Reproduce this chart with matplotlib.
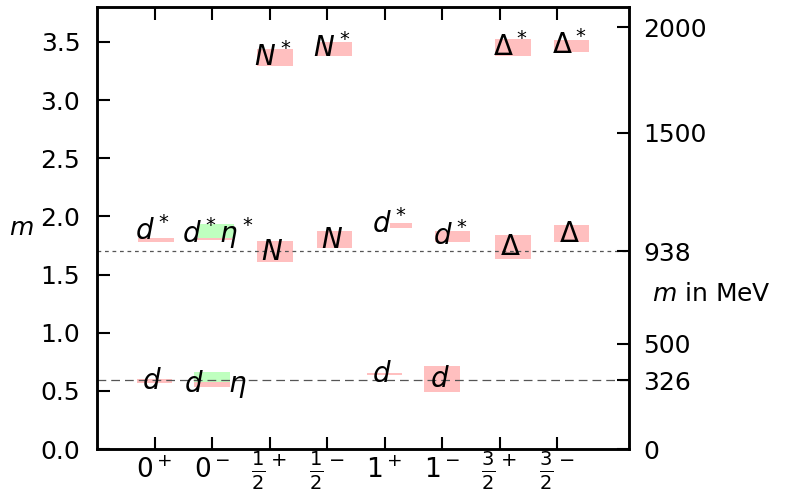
import matplotlib
matplotlib.use('Agg')
import matplotlib.pyplot as plt
import matplotlib.transforms as mtransforms
from matplotlib.patches import Rectangle

plt.rcParams['font.family'] = 'DejaVu Sans'
plt.rcParams['mathtext.fontset'] = 'dejavusans'

# J^P channels along the x axis
channels = [r'$0^+$', r'$0^-$', r'${\frac{1}{2}}^+$', r'${\frac{1}{2}}^-$',
            r'$1^+$', r'$1^-$', r'${\frac{3}{2}}^+$', r'${\frac{3}{2}}^-$']

# states: channel index, mass (lattice units), error, name, kind
state_channel = [0, 0, 1, 1, 1, 1, 2, 2, 3, 3, 4, 4, 5, 5, 6, 6, 7, 7]
state_mass = [0.585, 1.797, 0.555, 0.619, 1.806, 1.874, 1.698, 3.366, 1.801,
              3.439, 0.645, 1.922, 0.602, 1.827, 1.737, 3.448, 1.853, 3.465]
state_err = [0.017, 0.017, 0.022, 0.043, 0.009, 0.060, 0.090, 0.073, 0.073,
             0.060, 0.010, 0.021, 0.110, 0.047, 0.103, 0.073, 0.073, 0.052]
state_name = [r'$d$', r'$d^*$', '', r'$d\quad\eta$', '', r'$d^*\eta^*$',
              r'$N$', r'$N^*$', r'$N$', r'$N^*$', r'$d$', r'$d^*$',
              r'$d$', r'$d^*$', r'$\Delta$', r'$\Delta^*$', r'$\Delta$', r'$\Delta^*$']
state_kind = ['b', 'b', 'b', 's', 'b', 's', 'b', 'b', 'b',
              'b', 'b', 'b', 'b', 'b', 'b', 'b', 'b', 'b']

# right axis in MeV
mev_per_unit = 938 / 1.7
mev_ticks = [0, 326, 500, 938, 1500, 2000]
nucleon_mev = 938
quark_mev = 326

# layout tweaks per state (box shift / width, label offsets)
box_shift = [0.0, 0.02, 0.0, 0.0, 0.03, 0.07, 0.09, 0.09, 0.13, 0.13,
             0.0, 0.28, 0.0, 0.18, 0.23, 0.23, 0.25, 0.25]
box_width = [0.62] * 18
box_width[11] = 0.38
label_dx = [-0.04] * 18
label_dy = [-0.073] * 18
label_dx[1], label_dy[1] = -0.06, 0.0
label_dx[3], label_dy[3] = 0.06, -0.129
label_dx[5], label_dy[5] = 0.03, -0.103
label_dx[11], label_dy[11] = -0.19, -0.065

colors = {'b': '#ffbfbf', 's': '#bfffbf'}

fig = plt.figure(figsize=(7.85, 4.93), dpi=100)
ax = fig.add_axes([0.1236, 0.0892, 0.6777, 0.8966])

for i in range(len(state_mass)):
    xc = state_channel[i] + 1 + box_shift[i]
    w = box_width[i]
    ax.add_patch(Rectangle((xc - w / 2, state_mass[i] - state_err[i]), w,
                           2 * state_err[i], facecolor=colors[state_kind[i]],
                           edgecolor='none', zorder=1))
    if state_name[i]:
        ax.text(xc + label_dx[i], state_mass[i] + label_dy[i], state_name[i],
                ha='center', va='baseline', fontsize=20, zorder=4)

ax.axhline(nucleon_mev / mev_per_unit, color='#555555', lw=0.9,
           ls=(0, (3, 3)), zorder=2)
ax.axhline(quark_mev / mev_per_unit, color='#555555', lw=0.9,
           ls=(0, (7, 4)), zorder=2)

ax.set_xlim(0, 9.25)
ax.set_ylim(0, 3.8)
ax.set_xticks(range(1, len(channels) + 1))
ax.set_xticklabels(channels)
ax.set_yticks([0.0, 0.5, 1.0, 1.5, 2.0, 2.5, 3.0, 3.5])
ax.set_yticklabels(['0.0', '0.5', '1.0', '1.5', '2.0', '2.5', '3.0', '3.5'])
ax.tick_params(axis='both', direction='in', length=9, width=1.5,
               labelsize=18, top=True, right=False)
ax.tick_params(axis='y', pad=12)
ax.tick_params(axis='x', pad=1, labelsize=19)
shift_down = mtransforms.ScaledTranslation(0, -5 / 72, fig.dpi_scale_trans)
for lab in ax.get_xticklabels():
    if 'frac' in lab.get_text():
        lab.set_fontsize(20)
    else:
        lab.set_transform(lab.get_transform() + shift_down)

ax2 = ax.twinx()
ax2.set_ylim(0, 3.8)
ax2.set_yticks([v / mev_per_unit for v in mev_ticks])
ax2.set_yticklabels([str(v) for v in mev_ticks])
ax2.tick_params(axis='y', direction='in', length=9, width=1.5,
                labelsize=18, pad=10)

for a in (ax, ax2):
    for s in a.spines.values():
        s.set_linewidth(1.8)

ax.text(-0.143, 0.5, r'$m$', transform=ax.transAxes, ha='center',
        va='center', fontsize=18)
trans = mtransforms.blended_transform_factory(ax.transAxes, ax.transData)
ax.text(1.043, 1.333, r'$m$ in MeV', transform=trans, ha='left',
        va='center', fontsize=18)

fig.savefig('out.png', dpi=100)
